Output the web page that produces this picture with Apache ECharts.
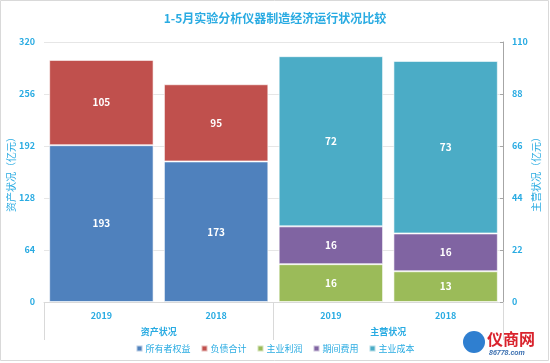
<!DOCTYPE html>
<html><head><meta charset="utf-8">
<script src="https://cdn.jsdelivr.net/npm/echarts@6/dist/echarts.min.js"></script>
<style>html,body{margin:0;padding:0;background:#fff}#c{width:550px;height:363px}</style>
</head><body><div id="c"></div>
<script>
const years = ['2019', '2018', '2019', '2018'];
const groups = ['资产状况', '主营状况'];
const leftTicks = [0, 64, 128, 192, 256, 320];
const rightTicks = [0, 22, 44, 66, 88, 110];
const ownerEquity = [193, 173, '-', '-'];
const liabilities = [105, 95, '-', '-'];
const mainProfit = ['-', '-', 16, 13];
const periodCost = ['-', '-', 16, 16];
const mainCost = ['-', '-', 72, 73];

const txt = '#29abe2';
const font = '"Microsoft YaHei","Noto Sans CJK SC",sans-serif';
const label = {show: true, position: 'inside', color: '#fff', fontWeight: 'bold', fontSize: 10, fontFamily: font};
const mk = (name, data, color, yi, stack) => ({
  name, type: 'bar', data, stack, yAxisIndex: yi, xAxisIndex: 0,
  barCategoryGap: '9%', barGap: '-100%',
  itemStyle: {color, borderColor: 'rgba(255,255,255,0.6)', borderWidth: 1},
  label
});
const chart = echarts.init(document.getElementById('c'));
chart.setOption({
  animation: false,
  title: {text: '1-5月实验分析仪器制造经济运行状况比较', left: 'center', top: 7,
    textStyle: {color: txt, fontSize: 12, fontWeight: 'bold', fontFamily: font}},
  grid: {left: 44, right: 47, top: 42, bottom: 61, outerBoundsMode: 'none', containLabel: false},
  legend: {bottom: 5, left: 'center', itemWidth: 6, itemHeight: 6, itemGap: 10, icon: 'rect',
    textStyle: {color: txt, fontSize: 9, fontFamily: font, padding: [0, 0, 0, -2]},
    data: ['所有者权益', '负债合计', '主业利润', '期间费用', '主业成本']},
  xAxis: [
    {type: 'category', data: years, position: 'bottom',
      axisLine: {show: false}, axisTick: {show: false},
      axisLabel: {color: txt, fontSize: 9, fontWeight: 'bold', margin: 9, fontFamily: font}},
    {type: 'category', data: groups, position: 'bottom',
      axisLine: {show: true, lineStyle: {color: '#d9d9d9'}},
      axisTick: {show: true, length: 38, lineStyle: {color: '#d9d9d9'}},
      axisLabel: {color: txt, fontSize: 9, fontWeight: 'bold', margin: 25, fontFamily: font}}
  ],
  yAxis: [
    {type: 'value', min: 0, max: 320, interval: 64, name: '资产状况（亿元）', nameLocation: 'middle', nameGap: 28,
      nameMoveOverlap: false,
      nameTextStyle: {color: txt, fontSize: 10, fontFamily: font},
      axisLine: {show: false}, axisTick: {show: false},
      axisLabel: {color: txt, fontSize: 9, fontWeight: 'bold', margin: 9, fontFamily: font,
        formatter: v => leftTicks.includes(v) ? String(v) : ''},
      splitLine: {lineStyle: {color: '#e6e6e6'}}},
    {type: 'value', min: 0, max: 110, interval: 22, name: '主营状况（亿元）', nameLocation: 'middle', nameGap: 28,
      nameMoveOverlap: false,
      nameTextStyle: {color: txt, fontSize: 10, fontFamily: font},
      axisLine: {show: true, lineStyle: {color: '#a6a6a6'}},
      axisTick: {show: true, inside: true, length: 3, lineStyle: {color: '#a6a6a6'}},
      axisLabel: {color: txt, fontSize: 9, fontWeight: 'bold', margin: 9, fontFamily: font,
        formatter: v => rightTicks.includes(v) ? String(v) : ''},
      splitLine: {show: false}}
  ],
  series: [
    mk('所有者权益', ownerEquity, '#4F81BD', 0, 'asset'),
    mk('负债合计', liabilities, '#C0504D', 0, 'asset'),
    mk('主业利润', mainProfit, '#9BBB59', 1, 'main'),
    mk('期间费用', periodCost, '#8064A2', 1, 'main'),
    mk('主业成本', mainCost, '#4BACC6', 1, 'main')
  ],
  graphic: [
    {type: 'rect', shape: {x: 0.5, y: 0.5, width: 548, height: 360}, style: {fill: 'none', stroke: '#d9d9d9', lineWidth: 1}, silent: true},
    {type: 'circle', shape: {cx: 474, cy: 342, r: 11}, style: {fill: '#2f7fd0'}, silent: true},
    {type: 'text', left: 487, top: 331, style: {text: '仪商网', fill: '#d9232d', font: 'bold 16px "Noto Sans CJK SC"'}, silent: true},
    {type: 'text', left: 489, top: 350, style: {text: '86778.com', fill: '#3a6fb0', font: 'italic bold 7px sans-serif'}, silent: true}
  ]
});
</script></body></html>
